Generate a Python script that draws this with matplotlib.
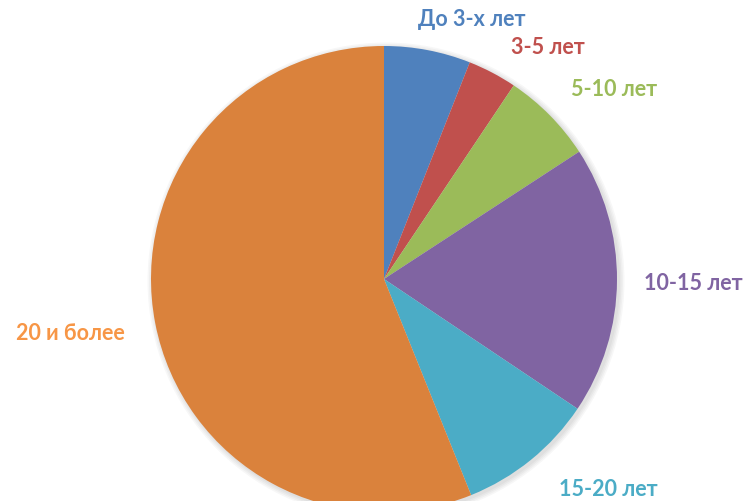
import matplotlib.pyplot as plt

# share of staff by length of service, %
categories = ['До 3-х лет', '3-5 лет', '5-10 лет', '10-15 лет', '15-20 лет', '20 и более']
values = [6.0, 3.4, 6.4, 18.6, 9.5, 56.1]

slice_colors = ['#4F81BD', '#C0504D', '#9BBB59', '#8064A2', '#4BACC6', '#DA823C']
label_colors = ['#4F81BD', '#C0504D', '#9BBB59', '#8064A2', '#4BACC6', '#F79646']

# label anchor points in pixels (x, y from top)
label_pos = [(472, 20), (548, 47), (614, 90), (693, 283), (608, 490), (70, 333)]

W, H = 747, 502
fig = plt.figure(figsize=(W / 100, H / 100), dpi=100)
ax = fig.add_axes([0, 0, 1, 1])
ax.set_xlim(0, W)
ax.set_ylim(0, H)
ax.set_aspect('equal')
ax.axis('off')

cx, cy, r = 384, H - 280, 233

# soft shadow under the pie
for i, a in enumerate([0.03, 0.03, 0.03, 0.03]):
    sh = plt.Circle((cx + 2, cy - 2), r + 1 + i * 1.5, color='black', alpha=a, lw=0)
    ax.add_patch(sh)

ax.pie(values, colors=slice_colors, startangle=90, counterclock=False,
       center=(cx, cy), radius=r, frame=True,
       wedgeprops=dict(linewidth=0))

ax.set_xlim(0, W)
ax.set_ylim(0, H)
ax.axis('off')

for lab, col, (x, y) in zip(categories, label_colors, label_pos):
    ax.text(x, H - y, lab, color=col, fontsize=15.5, fontweight='bold',
            family='Lato', ha='center', va='center')

fig.savefig('out.png', dpi=100)
